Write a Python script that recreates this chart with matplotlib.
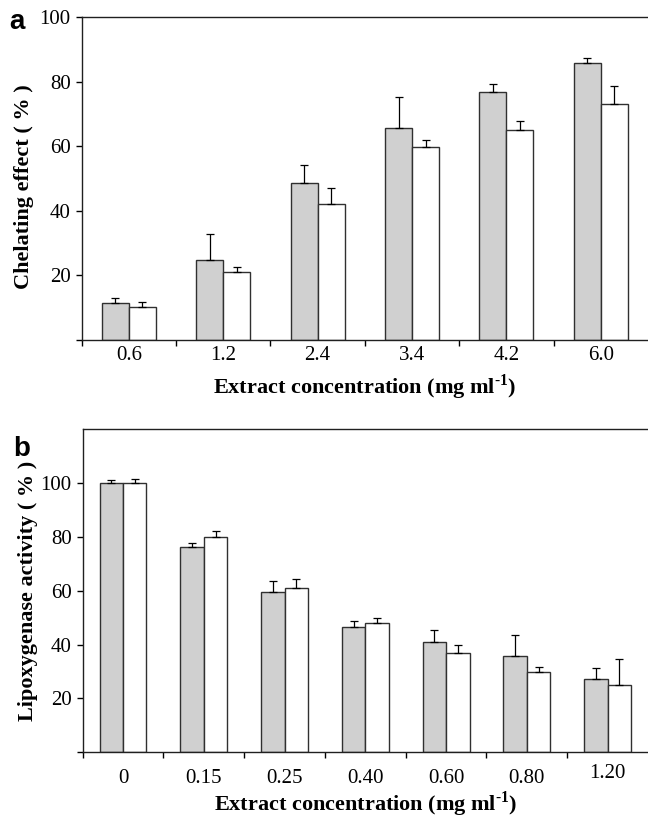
import matplotlib
matplotlib.use("Agg")
import matplotlib.pyplot as plt
import numpy as np

plt.rcParams['font.family'] = ['Liberation Serif', 'DejaVu Serif']
plt.rcParams['mathtext.fontset'] = 'custom'
plt.rcParams['mathtext.rm'] = 'Liberation Serif'
plt.rcParams['mathtext.bf'] = 'Liberation Serif:bold'

# Panel a data
a_labels = ['0.6', '1.2', '2.4', '3.4', '4.2', '6.0']
a_grey = [11.4, 24.8, 48.7, 65.8, 76.9, 85.9]
a_grey_err = [1.5, 7.9, 5.5, 9.6, 2.3, 1.6]
a_white = [10.1, 21.2, 42.0, 59.9, 65.1, 73.0]
a_white_err = [1.8, 1.5, 5.2, 2.0, 2.9, 5.8]

# Panel b data
b_labels = ['0', '0.15', '0.25', '0.40', '0.60', '0.80', '1.20']
b_grey = [100.0, 76.4, 59.5, 46.5, 41.1, 35.8, 27.4]
b_grey_err = [1.1, 1.5, 4.3, 2.1, 4.4, 7.7, 3.8]
b_white = [100.0, 80.0, 61.1, 48.1, 36.8, 30.0, 25.0]
b_white_err = [1.5, 2.4, 3.4, 1.8, 3.1, 1.6, 9.7]

GREY = '#d0d0d0'
EDGE = '#303030'
TICK_FS = 15
LABEL_FS = 16

fig = plt.figure(figsize=(6.48, 8.18), dpi=100)
ax_a = fig.add_axes([0.126, 0.5844, 0.874, 0.3945])
ax_b = fig.add_axes([0.1276, 0.0803, 0.8724, 0.3949])


def draw(ax, labels, grey, grey_err, white, white_err, ylim, bw, pad):
    n = len(labels)
    x = np.arange(n) + 0.5
    ax.bar(x - bw / 2, grey, bw, color=GREY, edgecolor=EDGE, linewidth=1.0, zorder=2)
    ax.bar(x + bw / 2, white, bw, color='white', edgecolor=EDGE, linewidth=1.0, zorder=2)
    ax.errorbar(x - bw / 2, grey, yerr=[np.zeros(n), grey_err], fmt='none',
                ecolor='black', elinewidth=0.9, capsize=3, capthick=0.9, zorder=3)
    ax.errorbar(x + bw / 2, white, yerr=[np.zeros(n), white_err], fmt='none',
                ecolor='black', elinewidth=0.9, capsize=3, capthick=0.9, zorder=3)
    ax.set_xlim(0, n)
    ax.set_ylim(*ylim)
    ax.set_xticks(x)
    ax.set_xticklabels(labels)
    ax.set_xticks(np.arange(n), minor=True)
    ax.tick_params(axis='x', which='major', length=0, pad=pad, labelsize=TICK_FS)
    ax.tick_params(axis='x', which='minor', length=4, width=1, direction='out')
    ax.set_yticks([0, 20, 40, 60, 80, 100])
    ax.set_yticklabels(['', '20', '40', '60', '80', '100'])
    ax.tick_params(axis='y', length=4, width=1, direction='out', labelsize=TICK_FS, pad=4)
    ax.spines['right'].set_visible(False)
    for s in ['left', 'bottom', 'top']:
        ax.spines[s].set_linewidth(1.0)
        ax.spines[s].set_color('#202020')


draw(ax_a, a_labels, a_grey, a_grey_err, a_white, a_white_err, (0, 100), 0.286, 4)
draw(ax_b, b_labels, b_grey, b_grey_err, b_white, b_white_err, (0, 120), 0.29, 12)

# slight raise of last label in panel b as in original
ax_b.get_xticklabels()[-1].set_y(0.015)

xl = 'Extract concentration (mg ml$^{\\mathbf{\u2010}\\mathbf{1}}$)'
ax_a.set_xlabel(xl, fontsize=LABEL_FS, fontweight='bold', labelpad=6)
ax_b.set_xlabel(xl, fontsize=LABEL_FS, fontweight='bold', labelpad=1)
ax_a.set_ylabel('Chelating effect ( % )', fontsize=LABEL_FS, fontweight='bold', labelpad=4)
ax_b.set_ylabel('Lipoxygenase activity ( % )', fontsize=LABEL_FS, fontweight='bold', labelpad=2)
ax_a.yaxis.label.set_y(0.475)

fig.text(0.014, 0.965, 'a', fontsize=20, fontweight='bold', family=['Liberation Sans', 'DejaVu Sans'])
fig.text(0.021, 0.443, 'b', fontsize=20, fontweight='bold', family=['Liberation Sans', 'DejaVu Sans'])

fig.savefig('out.png', dpi=100)
